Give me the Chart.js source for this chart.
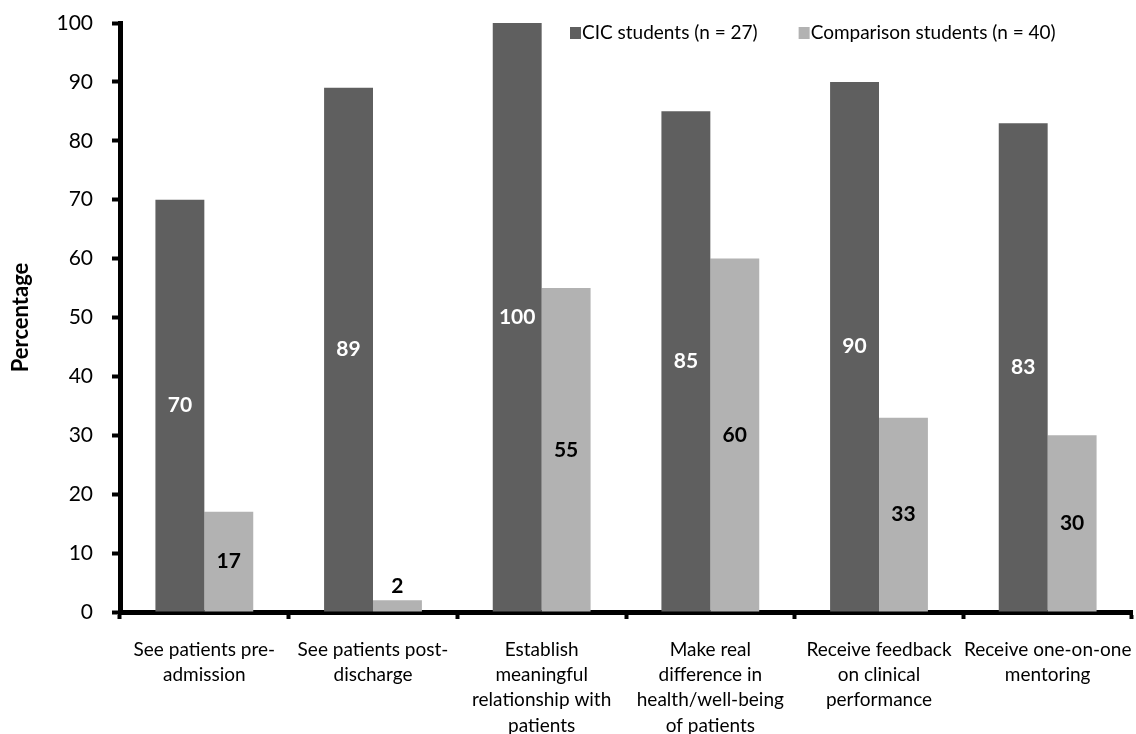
<!DOCTYPE html>
<html>
<head>
<meta charset="utf-8">
<script src="https://cdn.jsdelivr.net/npm/chart.js@4.4.1/dist/chart.umd.min.js"></script>
<style>
  html, body { margin: 0; padding: 0; background: #fff; }
</style>
</head>
<body>
<canvas id="resultsChart" width="1136" height="734"></canvas>
<script>
const categorias = [
    ['See patients pre-', 'admission'],
    ['See patients post-', 'discharge'],
    ['Establish', 'meaningful', 'relationship with', 'patients'],
    ['Make real', 'difference in', 'health/well-being', 'of patients'],
    ['Receive feedback', 'on clinical', 'performance'],
    ['Receive one-on-one', 'mentoring']
];
const serieNomes = ['CIC students (n = 27)', 'Comparison students (n = 40)'];
const cicValores = [70, 89, 100, 85, 90, 83];
const comparacaoValores = [17, 2, 55, 60, 33, 30];
const yTicks = [0, 10, 20, 30, 40, 50, 60, 70, 80, 90, 100];

const FONTE = 'Lato, "Open Sans", sans-serif';
const CORES = ['#5f5f5f', '#b2b2b2'];

// rotulos dos valores dentro das barras
const valueLabels = {
    id: 'valueLabels',
    afterDatasetsDraw(chart) {
        const ctx = chart.ctx;
        ctx.save();
        ctx.font = 'bold 21px ' + FONTE;
        ctx.textAlign = 'center';
        ctx.textBaseline = 'middle';
        chart.data.datasets.forEach((ds, i) => {
            chart.getDatasetMeta(i).data.forEach((bar, j) => {
                const h = bar.base - bar.y;
                let y = bar.y + h / 2;
                ctx.fillStyle = i === 0 ? '#fff' : '#000';
                if (h < 30) {
                    // barra pequena demais: texto acima
                    y = bar.y - 14;
                    ctx.fillStyle = '#000';
                }
                ctx.fillText(String(ds.data[j]), bar.x, y);
            });
        });
        ctx.restore();
    }
};

// legenda desenhada por cima da area do grafico (como no original)
const legendaTopo = {
    id: 'legendaTopo',
    afterDraw(chart) {
        const ctx = chart.ctx;
        ctx.save();
        ctx.font = '19px ' + FONTE;
        ctx.textBaseline = 'middle';
        let x = 570;
        const y = 33;
        chart.data.datasets.forEach((ds, i) => {
            ctx.fillStyle = ds.backgroundColor;
            ctx.fillRect(x, y - 6, 11, 12);
            ctx.fillStyle = '#000';
            ctx.fillText(ds.label, x + 12, y);
            x += 12 + ctx.measureText(ds.label).width + 41;
        });
        ctx.restore();
    }
};

const ctx = document.getElementById('resultsChart').getContext('2d');
new Chart(ctx, {
    type: 'bar',
    data: {
        labels: categorias,
        datasets: [
            {label: serieNomes[0], data: cicValores, backgroundColor: CORES[0]},
            {label: serieNomes[1], data: comparacaoValores, backgroundColor: CORES[1]}
        ]
    },
    options: {
        responsive: false,
        animation: false,
        categoryPercentage: 0.58,
        barPercentage: 1,
        layout: {padding: {top: 23, right: 4, left: 0, bottom: 0}},
        plugins: {
            legend: {display: false},
            tooltip: {enabled: false}
        },
        scales: {
            x: {
                grid: {
                    offset: true,
                    drawOnChartArea: false,
                    drawTicks: true,
                    tickLength: 7,
                    tickWidth: 4,
                    tickColor: '#000'
                },
                border: {display: true, color: '#000', width: 5},
                ticks: {
                    color: '#000',
                    font: {family: FONTE, size: 19, lineHeight: 1.33},
                    maxRotation: 0,
                    autoSkip: false,
                    padding: 18
                },
                afterFit(scale) {
                    scale.height = 122;
                    // nao deixar o padding dos rotulos encolher a area
                    scale.paddingLeft = 0;
                    scale.paddingRight = 0;
                }
            },
            y: {
                min: 0,
                max: 100,
                afterBuildTicks(scale) {
                    scale.ticks = yTicks.map(v => ({value: v}));
                },
                grid: {
                    drawOnChartArea: false,
                    drawTicks: true,
                    tickLength: 8,
                    tickWidth: 4,
                    tickColor: '#000'
                },
                border: {display: true, color: '#000', width: 5},
                ticks: {
                    color: '#000',
                    font: {family: FONTE, size: 21},
                    padding: 19
                },
                title: {
                    display: true,
                    text: 'Percentage',
                    color: '#000',
                    font: {family: FONTE, size: 22, weight: 'bold'},
                    padding: {top: 8, bottom: 0}
                },
                afterFit(scale) {
                    scale.width = 120;
                    scale.paddingTop = 0;
                    scale.paddingBottom = 0;
                }
            }
        }
    },
    plugins: [valueLabels, legendaTopo]
});
</script>
</body>
</html>
